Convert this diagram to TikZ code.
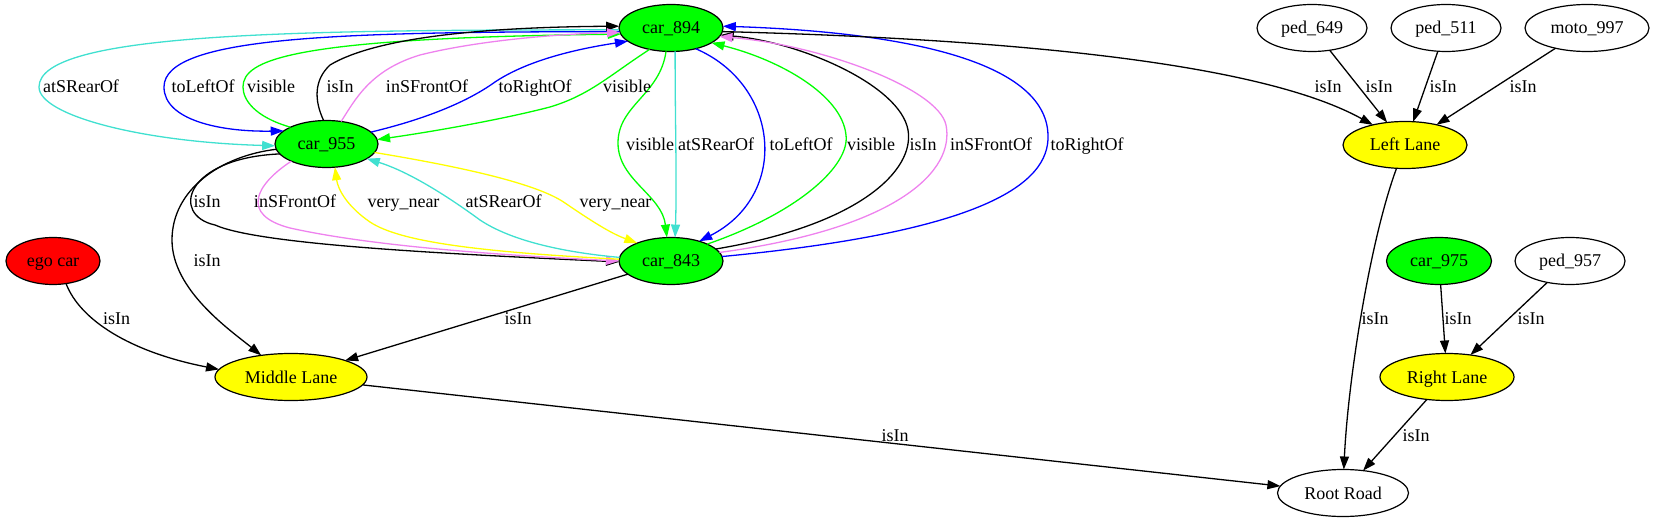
\documentclass[tikz,border=0pt]{standalone}
\usepackage{fontspec}
\setmainfont{Liberation Serif}
\usetikzlibrary{shapes.geometric,arrows.meta}
\definecolor{gvgreen}{RGB}{0,255,0}
\definecolor{gvturq}{RGB}{64,224,208}
\definecolor{gvviolet}{RGB}{238,130,238}
\definecolor{gvblue}{RGB}{0,0,255}
\definecolor{gvyellow}{RGB}{255,255,0}
\definecolor{gvred}{RGB}{255,0,0}
\begin{document}
\begin{tikzpicture}[x=1bp,y=-1bp,
  gv/.style={ellipse, draw, line width=1.2bp, inner sep=0pt, outer sep=0pt,
    minimum height=47bp, text height=12bp, text depth=0bp,
    font=\fontsize{18bp}{21bp}\selectfont},
  lbl/.style={anchor=base, inner sep=0pt, font=\fontsize{18bp}{21bp}\selectfont},
  edg/.style={line width=1.3bp, -{Triangle[length=13bp,width=9bp]}},
]
\useasboundingbox (0,0) rectangle (1655,523);

% nodes
\node[gv, fill=gvgreen, minimum width=104bp] (c894) at (671,28) {car\_894};
\node[gv, fill=gvgreen, minimum width=103bp] (c955) at (326.5,144) {car\_955};
\node[gv, fill=gvgreen, minimum width=104bp] (c843) at (671,261) {car\_843};
\node[gv, fill=gvred, minimum width=94bp] (ego) at (53,261) {ego car};
\node[gv, fill=gvyellow, minimum width=152bp] (ml) at (291,377) {Middle Lane};
\node[gv, fill=gvyellow, minimum width=124bp] (ll) at (1405,145) {Left Lane};
\node[gv, fill=white, minimum width=110bp] (p649) at (1312,28) {ped\_649};
\node[gv, fill=white, minimum width=110bp] (p511) at (1446,28) {ped\_511};
\node[gv, fill=white, minimum width=124bp] (m997) at (1587,28) {moto\_997};
\node[gv, fill=gvgreen, minimum width=105bp] (c975) at (1439,261) {car\_975};
\node[gv, fill=white, minimum width=110bp] (p957) at (1570,261) {ped\_957};
\node[gv, fill=gvyellow, minimum width=134bp] (rl) at (1447,377) {Right Lane};
\node[gv, fill=white, minimum width=131bp] (rr) at (1343,493) {Root Road};

% car_894 -> car_955
\draw[edg, gvturq] (c894.182) .. controls (300,30) and (39,32) .. (39,87) .. controls (39,115) and (140,142) .. (c955.182);
\draw[edg, gvblue] (c894.184) .. controls (350,32) and (164,35) .. (164,87) .. controls (164,120) and (220,132) .. (c955.163);
\draw[edg, gvgreen] (c894.225) .. controls (610,75) and (590,95) .. (550,107) .. controls (500,120) and (430,132) .. (c955.5);
% car_955 -> car_894
\draw[edg, gvgreen] (c955.155) .. controls (255,117) and (243,100) .. (243,87) .. controls (243,60) and (290,38) .. (c894.187);
\draw[edg] (c955.97) .. controls (314,100) and (314,80) .. (330,65) .. controls (380,35) and (500,27) .. (c894.178);
\draw[edg, gvviolet] (c955.57) .. controls (355,100) and (370,70) .. (420,55) .. controls (480,40) and (560,34) .. (c894.185);
\draw[edg, gvblue] (c955.15) .. controls (430,118) and (470,100) .. (495,82) .. controls (525,62) and (570,50) .. (c894.197);
% car_894 -> car_843
\draw[edg, gvgreen] (c894.258) .. controls (660,95) and (618,105) .. (618,143) .. controls (618,180) and (662,195) .. (c843.100);
\draw[edg, gvturq] (c894.280) .. controls (675,120) and (677,180) .. (c843.80);
\draw[edg, gvblue] (c894.320) .. controls (780,85) and (790,195) .. (c843.35);
% car_843 -> car_894
\draw[edg, gvgreen] (c843.25) .. controls (800,212) and (850,165) .. (846,135) .. controls (842,95) and (780,60) .. (c894.340);
\draw[edg] (c843.15) .. controls (860,225) and (915,170) .. (908,130) .. controls (900,85) and (800,42) .. (c894.352);
\draw[edg, gvviolet] (c843.10) .. controls (900,228) and (955,170) .. (946,125) .. controls (938,88) and (820,45) .. (c894.350);
\draw[edg, gvblue] (c843.5) .. controls (980,232) and (1050,185) .. (1048,135) .. controls (1046,60) and (900,32) .. (c894.2);
% car_955 <-> car_843
\draw[edg] (c955.192) .. controls (185,158) and (170,215) .. (215,225) .. controls (260,245) and (450,254) .. (c843.181);
\draw[edg, gvviolet] (c955.206) .. controls (255,185) and (240,215) .. (290,228) .. controls (380,248) and (520,256) .. (c843.180);
\draw[edg, gvyellow] (c843.178) .. controls (480,252) and (400,242) .. (370,222) .. controls (348,207) and (338,190) .. (c955.290);
\draw[edg, gvturq] (c843.176) .. controls (560,252) and (510,240) .. (480,220) .. controls (450,198) and (410,172) .. (c955.340);
\draw[edg, gvyellow] (c955.350) .. controls (450,165) and (535,182) .. (565,203) .. controls (590,220) and (610,233) .. (c843.152);
% lanes and road
\draw[edg] (c955.186) .. controls (220,156) and (172,190) .. (172,240) .. controls (172,290) and (230,330) .. (ml.144);
\draw[edg] (c843) -- (ml);
\draw[edg] (ego.300) .. controls (80,320) and (130,352) .. (ml.174);
\draw[edg] (ml) -- (rr);
\draw[edg] (c894.356) .. controls (1050,40) and (1270,68) .. (ll.148);
\draw[edg] (p649) -- (ll);
\draw[edg] (p511) -- (ll);
\draw[edg] (m997) -- (ll);
\draw[edg] (ll.250) .. controls (1370,240) and (1348,380) .. (rr.88);
\draw[edg] (c975) -- (rl);
\draw[edg] (p957) -- (rl);
\draw[edg] (rl) -- (rr);

% labels
\node[lbl] (l1) at (81,93) {atSRearOf};
\node[lbl] (l2) at (203,93) {toLeftOf};
\node[lbl] (l3) at (271,93) {visible};
\node[lbl] (l4) at (340,93) {isIn};
\node[lbl] (l5) at (427,93) {inSFrontOf};
\node[lbl] (l6) at (535,93) {toRightOf};
\node[lbl] (l7) at (627,93) {visible};
\node[lbl] (l8) at (1328,93) {isIn};
\node[lbl] (l9) at (1379,93) {isIn};
\node[lbl] (l10) at (1443,93) {isIn};
\node[lbl] (l11) at (1523,93) {isIn};
\node[lbl] (l12) at (650,151) {visible};
\node[lbl] (l13) at (716,151) {atSRearOf};
\node[lbl] (l14) at (801,151) {toLeftOf};
\node[lbl] (l15) at (871,151) {visible};
\node[lbl] (l16) at (923,151) {isIn};
\node[lbl] (l17) at (991,151) {inSFrontOf};
\node[lbl] (l18) at (1087,151) {toRightOf};
\node[lbl] (l19) at (207,208) {isIn};
\node[lbl] (l20) at (295,208) {inSFrontOf};
\node[lbl] (l21) at (403.5,208) {very\_near};
\node[lbl] (l22) at (503.5,208) {atSRearOf};
\node[lbl] (l23) at (615.5,208) {very\_near};
\node[lbl] (l24) at (207,267) {isIn};
\node[lbl] (l25) at (116.5,325) {isIn};
\node[lbl] (l26) at (518,325) {isIn};
\node[lbl] (l27) at (1375,325) {isIn};
\node[lbl] (l28) at (1458,325) {isIn};
\node[lbl] (l29) at (1531,325) {isIn};
\node[lbl] (l30) at (895,441) {isIn};
\node[lbl] (l31) at (1416,441) {isIn};
\end{tikzpicture}
\end{document}
